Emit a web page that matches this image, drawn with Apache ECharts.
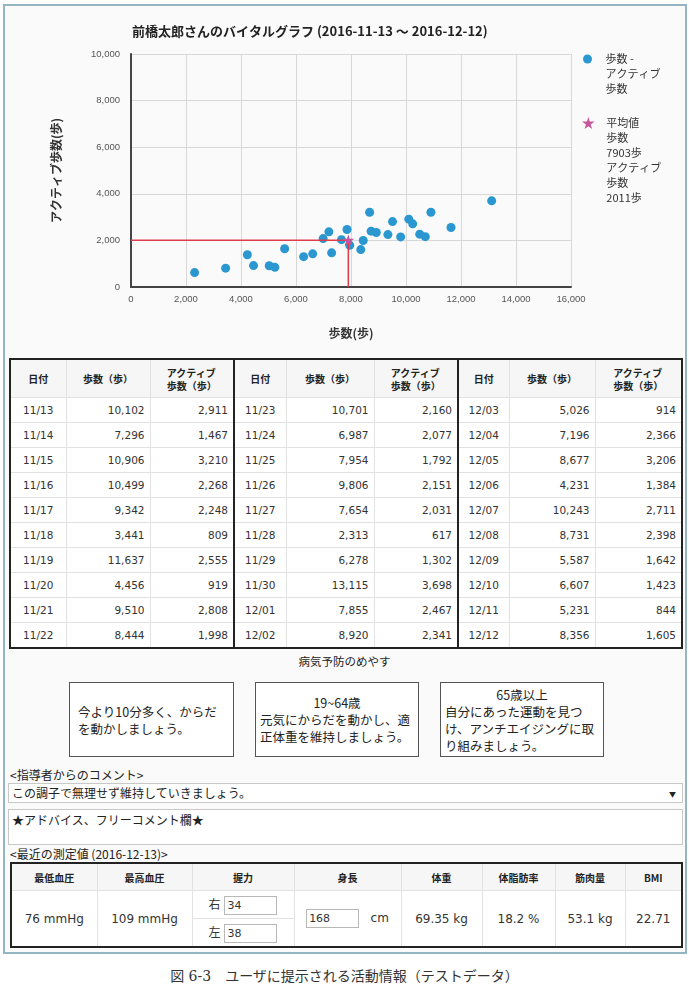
<!DOCTYPE html>
<html>
<head>
<meta charset="utf-8">
<script src="https://cdn.jsdelivr.net/npm/echarts@6/dist/echarts.min.js"></script>
<style>
  body { margin: 0; width: 689px; height: 988px; position: relative; background: #fff; overflow: hidden;
         font-family: "Noto Sans CJK JP", sans-serif; color: #222; }
  #frame { position: absolute; left: 3px; top: 4px; width: 680px; height: 946px; border: 2px solid #93b6c2; background: #fafafa; }
  #chart { position: absolute; left: 0; top: 0; width: 689px; height: 352px; }
  table { border-collapse: collapse; table-layout: fixed; position: absolute; background: #fff; }
  #daily { left: 9px; top: 358px; width: 672px; border: 2px solid #222; }
  #daily td, #daily th { border: 1px solid #e2e2e2; font-size: 10.5px; padding: 0; }
  #daily th { background: #f6f6f6; font-size: 10px; font-weight: bold; height: 37px; line-height: 13px; }
  #daily td { height: 24px; font-family: "DejaVu Sans", "Noto Sans CJK JP", sans-serif; color: #333; }
  #daily td.d { text-align: center; }
  #daily td.n { text-align: right; padding-right: 5px; }
  #daily .sep { border-left: 2px solid #222; }
  .hd2 { display: inline-block; text-align: left; }
  #guideTitle { position: absolute; left: 0; width: 689px; top: 653px; text-align: center; font-size: 11.5px; }
  .box { position: absolute; top: 682px; height: 75px; border: 1px solid #555; background: #fff; font-size: 12.5px; white-space: nowrap;
         line-height: 17px; display: flex; flex-direction: column; justify-content: center; padding: 0 4px; box-sizing: border-box; }
  .box .c { text-align: center; }
  .lbl { position: absolute; left: 10px; font-size: 12px; }
  #sel { position: absolute; left: 8px; top: 783px; width: 675px; height: 20px; border: 1px solid #c8c8c8; background: #fff;
         box-sizing: border-box; font-size: 12px; line-height: 18px; padding-left: 3px; }
  #sel span { position: absolute; right: 6px; top: 1px; font-size: 7px; }
  #free { position: absolute; left: 8px; top: 809px; width: 675px; height: 36px; border: 1px solid #c8c8c8; background: #fff;
          box-sizing: border-box; font-size: 12px; line-height: 18px; padding: 1px 3px; }
  #meas { left: 10px; top: 862px; width: 671px; border: 2px solid #222; }
  #meas th { background: #f6f6f6; font-size: 10px; font-weight: bold; height: 24px; border: 1px solid #e2e2e2; }
  #meas td { border: 1px solid #e2e2e2; font-size: 12px; text-align: center; height: 27px; padding: 0; color: #333;
             font-family: "DejaVu Sans", "Noto Sans CJK JP", sans-serif; }
  .inp { display: inline-block; width: 49px; height: 17px; border: 1px solid #b8b8b8; text-align: left; padding-left: 2px;
         line-height: 17px; vertical-align: middle; font-size: 11px; background: #fff; }
  #caption { position: absolute; left: 0; width: 689px; top: 965px; text-align: center; font-size: 14px; color: #333;
             font-family: "DejaVu Serif", "Noto Sans CJK JP", serif; }
</style>
</head>
<body>
<div id="frame"></div>
<div id="chart"></div>
<table id="daily"></table>
<div id="guideTitle">病気予防のめやす</div>
<div class="box" style="left:69px;width:165px;padding-left:8px;"><div>今より10分多く、からだ<br>を動かしましょう。</div></div>
<div class="box" style="left:255px;width:164px;"><div class="c">19~64歳</div><div>元気にからだを動かし、適<br>正体重を維持しましょう。</div></div>
<div class="box" style="left:440px;width:164px;"><div class="c">65歳以上</div><div>自分にあった運動を見つ<br>け、アンチエイジングに取<br>り組みましょう。</div></div>
<div class="lbl" style="top:766px;">&lt;指導者からのコメント&gt;</div>
<div id="sel">この調子で無理せず維持していきましょう。<span>▼</span></div>
<div id="free">★アドバイス、フリーコメント欄★</div>
<div class="lbl" style="top:845px;">&lt;最近の測定値 (2016-12-13)&gt;</div>
<table id="meas"></table>
<div id="caption">図 6-3　ユーザに提示される活動情報（テストデータ）</div>

<script>
const titleText = '前橋太郎さんのバイタルグラフ (2016-11-13 ～ 2016-12-12)'
const dates = ['11/13', '11/14', '11/15', '11/16', '11/17', '11/18', '11/19', '11/20', '11/21', '11/22',
  '11/23', '11/24', '11/25', '11/26', '11/27', '11/28', '11/29', '11/30', '12/01', '12/02',
  '12/03', '12/04', '12/05', '12/06', '12/07', '12/08', '12/09', '12/10', '12/11', '12/12']
const steps = [10102, 7296, 10906, 10499, 9342, 3441, 11637, 4456, 9510, 8444,
  10701, 6987, 7954, 9806, 7654, 2313, 6278, 13115, 7855, 8920,
  5026, 7196, 8677, 4231, 10243, 8731, 5587, 6607, 5231, 8356]
const activeSteps = [2911, 1467, 3210, 2268, 2248, 809, 2555, 919, 2808, 1998,
  2160, 2077, 1792, 2151, 2031, 617, 1302, 3698, 2467, 2341,
  914, 2366, 3206, 1384, 2711, 2398, 1642, 1423, 844, 1605]
const meanSteps = 7903
const meanActive = 2011
const scatterName = '歩数 -\nアクティブ\n歩数'
const meanName = '平均値\n歩数\n' + meanSteps + '歩\nアクティブ\n歩数\n' + meanActive + '歩'

const measHeaders = ['最低血圧', '最高血圧', '握力', '身長', '体重', '体脂肪率', '筋肉量', 'BMI']
const measWidths = [86, 95, 102, 107, 81, 73, 70, 57]
const gripRight = '34'
const gripLeft = '38'
const measValues = { low: '76 mmHg', high: '109 mmHg', height: '168', weight: '69.35 kg', fat: '18.2 %', muscle: '53.1 kg', bmi: '22.71' }

const fmt = (v) => v.toLocaleString('en-US')
const font = '"Noto Sans CJK JP", sans-serif'
const starPath = 'path://M50,0 L61,35 L98,35 L68,57 L79,91 L50,70 L21,91 L32,57 L2,35 L39,35 Z'

// legend text is centred on its icon, so pad with empty lines above
// to put the first line level with the marker
const topAligned = (name) => {
  const n = name.split('\n').length
  return '\n'.repeat(n - 1) + name
}

// daily table
let html = '<colgroup>'
;[56, 84, 84, 52, 88, 84, 51, 86, 87].forEach(w => { html += '<col style="width:' + w + 'px">' })
html += '</colgroup><tr>'
for (let g = 0; g < 3; g++) {
  const s = g > 0 ? ' class="sep"' : ''
  html += '<th' + s + '>日付</th><th>歩数（歩）</th><th><span class="hd2">アクティブ<br>歩数（歩）</span></th>'
}
html += '</tr>'
for (let r = 0; r < 10; r++) {
  html += '<tr>'
  for (let g = 0; g < 3; g++) {
    const i = g * 10 + r
    html += '<td class="d' + (g > 0 ? ' sep' : '') + '">' + dates[i] + '</td><td class="n">' + fmt(steps[i]) +
      '</td><td class="n">' + fmt(activeSteps[i]) + '</td>'
  }
  html += '</tr>'
}
document.getElementById('daily').innerHTML = html

// measurement table
let mh = '<colgroup>'
measWidths.forEach(w => { mh += '<col style="width:' + w + 'px">' })
mh += '</colgroup><tr>' + measHeaders.map(h => '<th>' + h + '</th>').join('') + '</tr>'
mh += '<tr><td rowspan="2">' + measValues.low + '</td><td rowspan="2">' + measValues.high + '</td>' +
  '<td>右 <span class="inp">' + gripRight + '</span></td>' +
  '<td rowspan="2"><span class="inp">' + measValues.height + '</span>&nbsp;&nbsp; cm</td>' +
  '<td rowspan="2">' + measValues.weight + '</td><td rowspan="2">' + measValues.fat + '</td>' +
  '<td rowspan="2">' + measValues.muscle + '</td><td rowspan="2">' + measValues.bmi + '</td></tr>'
mh += '<tr><td>左 <span class="inp">' + gripLeft + '</span></td></tr>'
document.getElementById('meas').innerHTML = mh

// chart
const chart = echarts.init(document.getElementById('chart'))
const option = {
  animation: false,
  title: {
    text: titleText,
    left: 127,
    top: 20,
    textStyle: { fontSize: 13, fontWeight: 'bold', color: '#222', fontFamily: font },
  },
  grid: { left: 131, right: 118, top: 54, bottom: 65 },
  legend: [
    {
      orient: 'vertical', left: 583, top: 21.5, padding: 0, itemWidth: 26, itemHeight: 9,
      formatter: topAligned,
      textStyle: { fontSize: 11, lineHeight: 15, color: '#333', fontFamily: font },
      data: [{ name: scatterName, icon: 'circle' }],
    },
    {
      orient: 'vertical', left: 582, top: 40.5, padding: 0, itemWidth: 26, itemHeight: 12,
      formatter: topAligned,
      textStyle: { fontSize: 11, lineHeight: 15, color: '#333', fontFamily: font },
      data: [{ name: meanName, icon: starPath }],
    },
  ],
  xAxis: {
    type: 'value', min: 0, max: 16000, interval: 2000,
    name: '歩数(歩)', nameLocation: 'middle', nameGap: 40,
    nameTextStyle: { fontSize: 12, fontWeight: 'bold', color: '#333', fontFamily: font },
    axisLine: { show: true, onZero: false, lineStyle: { color: '#444', width: 2 } },
    axisTick: { show: false },
    axisLabel: { formatter: fmt, color: '#555', fontSize: 9.5, margin: 7, fontFamily: 'Liberation Sans' },
    splitLine: { lineStyle: { color: '#d8d8d8' } },
  },
  yAxis: {
    type: 'value', min: 0, max: 10000, interval: 2000,
    name: 'アクティブ歩数(歩)', nameLocation: 'middle', nameGap: 69,
    nameTextStyle: { fontSize: 12, fontWeight: 'bold', color: '#333', fontFamily: font },
    axisLine: { show: true, lineStyle: { color: '#444', width: 2 } },
    axisTick: { show: false },
    axisLabel: { formatter: fmt, color: '#555', fontSize: 9.5, margin: 11, fontFamily: 'Liberation Sans' },
    splitLine: { lineStyle: { color: '#d8d8d8' } },
  },
  series: [
    {
      name: scatterName,
      type: 'scatter',
      symbolSize: 9,
      itemStyle: { color: '#2b97d0', opacity: 1 },
      data: steps.map((s, i) => [s, activeSteps[i]]),
    },
    {
      name: 'mean-lines',
      type: 'line',
      symbol: 'none',
      silent: true,
      z: 3,
      lineStyle: { color: '#df3b4b', width: 1.5 },
      data: [[0, meanActive], [meanSteps, meanActive], [meanSteps, 0]],
    },
    {
      name: meanName,
      type: 'scatter',
      symbol: starPath,
      symbolSize: 12,
      symbolKeepAspect: true,
      z: 4,
      itemStyle: { color: '#c5569c', opacity: 1 },
      data: [[meanSteps, meanActive]],
    },
  ],
}
chart.setOption(option)
</script>
</body>
</html>
